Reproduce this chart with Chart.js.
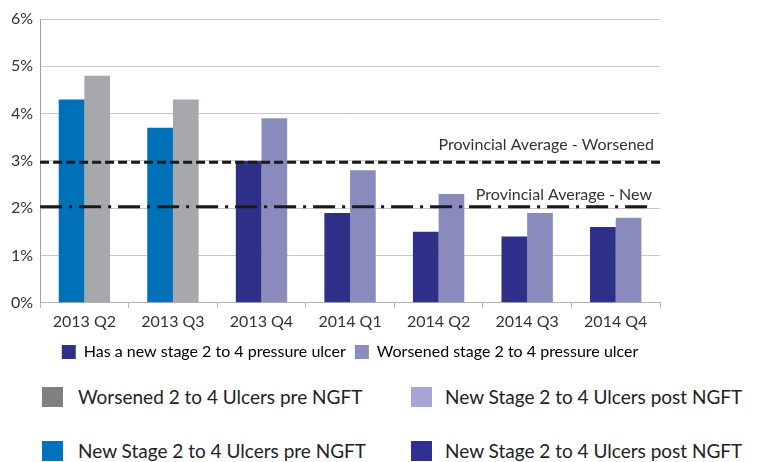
<!DOCTYPE html>
<html>
<head>
<meta charset="utf-8">
<script src="https://cdn.jsdelivr.net/npm/chart.js@4"></script>
<style>
  body { margin: 0; background: #fff; font-family: Lato, "Open Sans", sans-serif; }
  #wrap { position: relative; width: 760px; height: 462px; }
  #box { position: absolute; left: 0; top: 0; width: 760px; height: 370px; }
  .key { position: absolute; font-size: 19px; color: #222; white-space: nowrap; }
  .key span { position: absolute; left: 0; top: 0; width: 21px; height: 20px; }
  .key b { font-weight: normal; position: absolute; left: 36px; top: -2px; }
</style>
</head>
<body>
<div id="wrap">
  <div id="box"><canvas id="myChart"></canvas></div>
  <div class="key" style="left:42px;top:387px"><span style="background:#808083"></span><b>Worsened 2 to 4 Ulcers pre NGFT</b></div>
  <div class="key" style="left:411px;top:387px"><span style="background:#A6A5D3"></span><b style="left:34px">New Stage 2 to 4 Ulcers post NGFT</b></div>
  <div class="key" style="left:42px;top:441px"><span style="background:#0072BC"></span><b>New Stage 2 to 4 Ulcers pre NGFT</b></div>
  <div class="key" style="left:411px;top:441px"><span style="background:#2E3192"></span><b style="left:34px">New Stage 2 to 4 Ulcers post NGFT</b></div>
</div>
<script>
var quarters = ['2013 Q2', '2013 Q3', '2013 Q4', '2014 Q1', '2014 Q2', '2014 Q3', '2014 Q4'];
var newUlcer = [4.3, 3.7, 3.0, 1.9, 1.5, 1.4, 1.6];
var worsenedUlcer = [4.8, 4.3, 3.9, 2.8, 2.3, 1.9, 1.8];
// first two quarters are pre NGFT
var newColors = ['#0070B8', '#0070B8', '#2E3087', '#2E3087', '#2E3087', '#2E3087', '#2E3087'];
var worsenedColors = ['#A7A8AC', '#A7A8AC', '#8A8BBD', '#8A8BBD', '#8A8BBD', '#8A8BBD', '#8A8BBD'];
var avgLabels = ['Provincial Average - Worsened', 'Provincial Average - New'];
var avgValues = [2.97, 2.03];

var avgLines = {
  id: 'avgLines',
  afterDatasetsDraw: function(chart) {
    var ctx = chart.ctx, area = chart.chartArea, y = chart.scales.y;
    ctx.save();
    ctx.strokeStyle = '#1a1a1a';
    ctx.lineWidth = 3;
    // worsened: dashed
    var y1 = y.getPixelForValue(avgValues[0]);
    ctx.setLineDash([9, 4]);
    ctx.beginPath(); ctx.moveTo(area.left, y1); ctx.lineTo(area.right, y1); ctx.stroke();
    // new: dash-dot
    var y2 = y.getPixelForValue(avgValues[1]);
    ctx.setLineDash([22, 7, 3, 7]);
    ctx.beginPath(); ctx.moveTo(area.left, y2); ctx.lineTo(area.right - 8, y2); ctx.stroke();
    ctx.setLineDash([]);
    ctx.fillStyle = '#333';
    ctx.font = '16px Lato';
    ctx.textAlign = 'right';
    ctx.textBaseline = 'middle';
    ctx.fillText(avgLabels[0], area.right - 6, y1 - 17);
    ctx.fillText(avgLabels[1], area.right - 8, y2 - 12);
    ctx.restore();
  }
};

var ctx = document.getElementById('myChart').getContext('2d');
var myChart = new Chart(ctx, {
  type: 'bar',
  data: {
    labels: quarters,
    datasets: [{
      label: 'Has a new stage 2 to 4 pressure ulcer',
      data: newUlcer,
      backgroundColor: newColors,
      categoryPercentage: 0.58,
      barPercentage: 1.0
    }, {
      label: 'Worsened stage 2 to 4 pressure ulcer',
      data: worsenedUlcer,
      backgroundColor: worsenedColors,
      categoryPercentage: 0.58,
      barPercentage: 1.0
    }]
  },
  options: {
    responsive: true,
    maintainAspectRatio: false,
    animation: false,
    layout: { padding: { left: 4, right: 100, top: 19, bottom: 0 } },
    plugins: {
      legend: {
        position: 'bottom',
        fullSize: false,
        labels: {
          boxWidth: 14,
          boxHeight: 14,
          padding: 9,
          color: '#333',
          font: { family: 'Lato', size: 16 },
          generateLabels: function(chart) {
            return [
              { text: 'Has a new stage 2 to 4 pressure ulcer', fillStyle: '#2E3087', strokeStyle: '#2E3087', lineWidth: 0, datasetIndex: 0 },
              { text: 'Worsened stage 2 to 4 pressure ulcer', fillStyle: '#8A8BBD', strokeStyle: '#8A8BBD', lineWidth: 0, datasetIndex: 1 }
            ];
          }
        }
      },
      tooltip: { enabled: false }
    },
    scales: {
      x: {
        grid: { drawOnChartArea: false, drawTicks: true, tickLength: 5, color: '#B5B5B5', offset: true },
        border: { color: '#B5B5B5' },
        ticks: { color: '#333', font: { family: 'Lato', size: 16 }, padding: 4 }
      },
      y: {
        min: 0,
        max: 6,
        grid: { color: '#C8C8C8', drawTicks: false },
        border: { color: '#A0A0A0' },
        ticks: {
          stepSize: 1,
          padding: 7,
          color: '#333',
          font: { family: 'Lato', size: 16 },
          callback: function(v) { return v + '%'; }
        }
      }
    }
  },
  plugins: [avgLines]
});
</script>
</body>
</html>
